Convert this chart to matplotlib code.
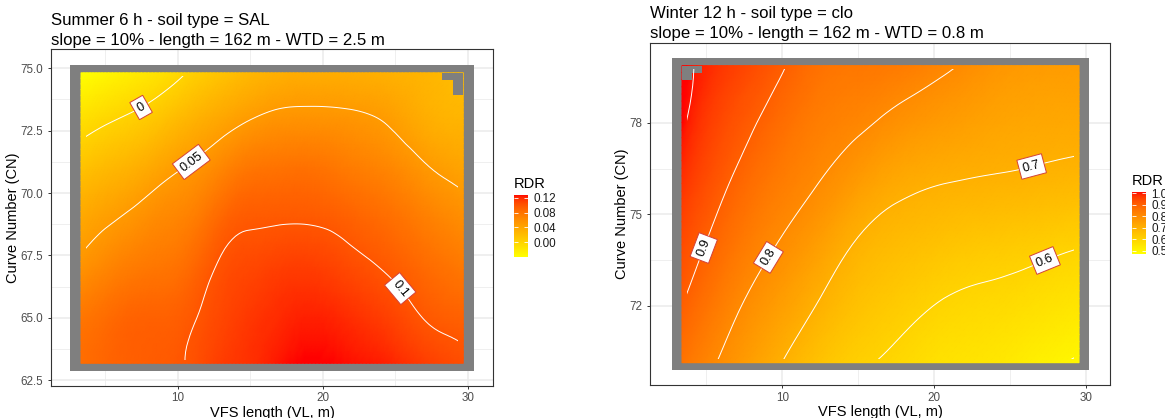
"""Two RDR response surfaces (VFS length x curve number), ggplot-like look."""
import numpy as np
import matplotlib
matplotlib.use("Agg")
import matplotlib.pyplot as plt
import matplotlib.tri as mtri
from matplotlib.colors import ListedColormap, Normalize
from matplotlib.cm import ScalarMappable
from matplotlib.patches import Rectangle
from matplotlib.ticker import FormatStrFormatter

plt.rcParams["font.family"] = ["Liberation Sans", "DejaVu Sans"]

# ---- data ------------------------------------------------------------------
# summer 6 h, soil SAL: RDR at VL (columns) x CN (rows, bottom -> top)
sum_vl = [3.33, 5, 7, 9, 11, 13, 15, 17, 19, 21, 23, 25, 27, 29.7]
sum_cn = [63.18, 65, 67, 69, 71, 73, 74.82]
sum_rdr = [
    [0.085, 0.090, 0.094, 0.097, 0.102, 0.113, 0.118, 0.125, 0.128, 0.127, 0.125, 0.121, 0.113, 0.104],
    [0.078, 0.085, 0.092, 0.093, 0.0985, 0.108, 0.115, 0.120, 0.123, 0.121, 0.116, 0.109, 0.0995, 0.093],
    [0.056, 0.066, 0.075, 0.079, 0.088, 0.1025, 0.108, 0.112, 0.113, 0.109, 0.103, 0.096, 0.087, 0.077],
    [0.038, 0.046, 0.055, 0.064, 0.072, 0.089, 0.097, 0.098, 0.098, 0.095, 0.089, 0.082, 0.072, 0.060],
    [0.015, 0.023, 0.031, 0.043, 0.053, 0.066, 0.078, 0.081, 0.082, 0.077, 0.071, 0.064, 0.0525, 0.042],
    [-0.012, -0.004, 0.004, 0.015, 0.028, 0.039, 0.049, 0.055, 0.056, 0.055, 0.052, 0.045, 0.034, 0.028],
    [-0.040, -0.032, -0.022, -0.012, 0.003, 0.014, 0.025, 0.032, 0.035, 0.034, 0.033, 0.030, 0.028, 0.020],
]
sum_cell = (0.7325, 0.291)          # raster cell size (VL, CN)
sum_na_rows = [2, 1, 1]             # missing cells per top row, right side
sum_levels = [0, 0.05, 0.1]
sum_labels = [(7.5, 73.4), (11.0, 71.2), (25.2, 66.1)]
sum_range = (-0.04, 0.128)
sum_cbar_ticks = [0.00, 0.04, 0.08, 0.12]

# winter 12 h, soil clo
win_vl = [3.39, 6, 9, 12, 15, 18, 21, 24, 27, 29.56]
win_cn = [70.14, 72, 74, 76, 78, 79.87]
win_rdr = [
    [0.855, 0.792, 0.722, 0.656, 0.610, 0.582, 0.555, 0.543, 0.514, 0.4925],
    [0.900, 0.831, 0.765, 0.704, 0.650, 0.619, 0.592, 0.580, 0.562, 0.546],
    [0.938, 0.873, 0.810, 0.756, 0.693, 0.664, 0.644, 0.631, 0.618, 0.604],
    [0.975, 0.911, 0.849, 0.805, 0.754, 0.714, 0.699, 0.692, 0.684, 0.675],
    [1.008, 0.942, 0.888, 0.837, 0.811, 0.778, 0.754, 0.734, 0.725, 0.722],
    [1.012, 0.971, 0.923, 0.867, 0.848, 0.836, 0.806, 0.772, 0.757, 0.754],
]
win_cell = (0.654, 0.243)
win_na_rows = [2, 1]                # missing cells per top row, left side
win_levels = [0.5, 0.6, 0.7, 0.8, 0.9, 1.0]
win_labels = [(4.8, 73.9), (9.05, 73.6), (26.5, 76.45), (27.3, 73.5)]
win_label_levels = [0.6, 0.7, 0.8, 0.9]
win_range = (0.47, 1.01)
win_cbar_ticks = [0.5, 0.6, 0.7, 0.8, 0.9, 1.0]

W, H = 1165, 418
GRID = "#EBEBEB"
DARK = "#333333"


def lab_gradient(c0, c1, n=256):
    """yellow -> red interpolated in CIE Lab, like scale_fill_gradient."""
    M = np.array([[0.4124, 0.3576, 0.1805], [0.2126, 0.7152, 0.0722], [0.0193, 0.1192, 0.9505]])
    wp = np.array([0.95047, 1.0, 1.08883])

    def to_lab(rgb):
        rgb = np.asarray(rgb, float)
        lin = np.where(rgb <= 0.04045, rgb / 12.92, ((rgb + 0.055) / 1.055) ** 2.4)
        xyz = M @ lin / wp
        f = np.where(xyz > 0.008856, np.cbrt(xyz), 7.787 * xyz + 16 / 116)
        return np.array([116 * f[1] - 16, 500 * (f[0] - f[1]), 200 * (f[1] - f[2])])

    t = np.linspace(0, 1, n)[:, None]
    lab = to_lab(c0) * (1 - t) + to_lab(c1) * t
    fy = (lab[:, 0] + 16) / 116
    f = np.stack([fy + lab[:, 1] / 500, fy, fy - lab[:, 2] / 200], axis=1)
    xyz = np.where(f ** 3 > 0.008856, f ** 3, (f - 16 / 116) / 7.787) * wp
    lin = xyz @ np.linalg.inv(M).T
    lin = np.clip(lin, 0, None)
    rgb = np.where(lin <= 0.0031308, 12.92 * lin, 1.055 * lin ** (1 / 2.4) - 0.055)
    return ListedColormap(np.clip(rgb, 0, 1))


CMAP = lab_gradient((1, 1, 0), (1, 0, 0))


def px_axes(fig, x0, y0, x1, y1):
    return fig.add_axes([x0 / W, 1 - y1 / H, (x1 - x0) / W, (y1 - y0) / H])


def grid_tri(vl, cn):
    """regular triangulation of the VL x CN grid (same diagonal in every cell)"""
    gx, gy = np.meshgrid(vl, cn)
    idx = np.arange(gx.size).reshape(gx.shape)
    a, b = idx[:-1, :-1].ravel(), idx[:-1, 1:].ravel()
    c, d = idx[1:, 1:].ravel(), idx[1:, :-1].ravel()
    tris = np.concatenate([np.stack([a, b, c], 1), np.stack([a, c, d], 1)])
    return mtri.Triangulation(gx.ravel(), gy.ravel(), tris)


def panel(fig, box, xlim, ylim, yticks, yfmt, vl, cn, z, cell, na_rows, na_side,
          levels, label_levels, label_pos, vrange, cbar_box, cbar_ticks, cbar_fmt,
          titles, ylab_x):
    ax = px_axes(fig, *box)
    z = np.asarray(z, float)
    dx, dy = cell
    norm = Normalize(*vrange)

    # smooth the read-off grid with matplotlib's own cubic refiner
    tri_f, z_f = mtri.UniformTriRefiner(grid_tri(vl, cn)).refine_field(z.ravel(), subdiv=3)

    # NA cells of the raster show as grey50 around the data
    ax.add_patch(Rectangle((vl[0] - dx, cn[0] - dy), vl[-1] - vl[0] + 2 * dx,
                           cn[-1] - cn[0] + 2 * dy, fc="#7F7F7F", ec="none", zorder=1))
    ax.tripcolor(tri_f, z_f, shading="gouraud", cmap=CMAP, norm=norm, zorder=2)
    for i, n in enumerate(na_rows):
        y1 = cn[-1] - i * dy
        x0 = vl[-1] - n * dx if na_side == "right" else vl[0]
        ax.add_patch(Rectangle((x0, y1 - dy), n * dx, dy, fc="#7F7F7F", ec="none", zorder=3))

    ax.set_xlim(*xlim); ax.set_ylim(*ylim)
    # contours only run between the outer cell centres
    clip_xy = (vl[0] + dx / 2, cn[0] + dy / 2)
    clip_wh = (vl[-1] - vl[0] - dx, cn[-1] - cn[0] - dy)
    plain = [lv for lv in levels if lv not in label_levels]
    if plain:
        cs0 = ax.tricontour(tri_f, z_f, levels=plain, colors="white", linewidths=0.7, zorder=4)
        cs0.set_clip_path(Rectangle(clip_xy, *clip_wh, transform=ax.transData))
    cs = ax.tricontour(tri_f, z_f, levels=label_levels, colors="white", linewidths=0.7, zorder=4)
    cs.set_clip_path(Rectangle(clip_xy, *clip_wh, transform=ax.transData))
    txt = ax.clabel(cs, inline=False, manual=label_pos,
                    fmt=lambda v: f"{v:g}", fontsize=9.2, colors="black")
    for t in txt:
        t.set_bbox(dict(boxstyle="square,pad=0.3", fc="white", ec="#D2413A", lw=0.7))
        t.set_zorder(5)

    ax.set_xticks([10, 20, 30]); ax.set_xticks([5, 15, 25], minor=True)
    ax.set_yticks(yticks)
    ax.set_yticks([(a + b) / 2 for a, b in zip(yticks[:-1], yticks[1:])], minor=True)
    ax.yaxis.set_major_formatter(FormatStrFormatter(yfmt))
    ax.grid(which="major", color=GRID, lw=1.1)
    ax.grid(which="minor", color=GRID, lw=0.55)
    ax.set_axisbelow(True)
    ax.tick_params(which="major", length=2.5, width=0.7, color=DARK, labelsize=8.4,
                   labelcolor="#4D4D4D")
    ax.tick_params(axis="x", pad=2); ax.tick_params(axis="y", pad=3)
    ax.tick_params(which="minor", length=0)
    for s in ax.spines.values():
        s.set_color(DARK); s.set_linewidth(0.8)

    x0, y0, x1, y1 = box
    fig.text(x0 / W, 1 - (y0 - 24.5) / H, titles[0], fontsize=12.1, va="baseline")
    fig.text(x0 / W, 1 - (y0 - 4.8) / H, titles[1], fontsize=12.1, va="baseline")
    fig.text((x0 + x1) / 2 / W, 1 - (y1 + 20) / H, "VFS length (VL, m)", fontsize=10.5,
             ha="center", va="top")
    fig.text(ylab_x / W, 1 - (y0 + y1) / 2 / H, "Curve Number (CN)", fontsize=10.5,
             rotation=90, ha="center", va="center")

    # colourbar legend
    cax = px_axes(fig, *cbar_box)
    cb = fig.colorbar(ScalarMappable(norm=norm, cmap=CMAP), cax=cax, ticks=cbar_ticks)
    cb.outline.set_visible(False)
    cb.minorticks_off()
    cax.yaxis.set_major_formatter(FormatStrFormatter(cbar_fmt))
    cax.tick_params(direction="in", color="white", length=2.8, width=0.6, left=True,
                    right=True, labelleft=False, labelright=True, labelsize=8.4,
                    labelcolor="#1A1A1A", pad=4)
    fig.text(cbar_box[0] / W, 1 - (cbar_box[1] - 7) / H, "RDR", fontsize=10.5, va="baseline")
    return ax


fig = plt.figure(figsize=(W / 100, H / 100), dpi=100)
panel(fig, (51, 49.3, 493.3, 386), (1.26, 31.77), (62.27, 75.76),
      [62.5, 65.0, 67.5, 70.0, 72.5, 75.0], "%.1f",
      sum_vl, sum_cn, sum_rdr, sum_cell, sum_na_rows, "right",
      sum_levels, sum_levels, sum_labels, sum_range,
      (514, 195, 528, 257), sum_cbar_ticks, "%.2f",
      ("Summer 6 h - soil type = SAL", "slope = 10% - length = 162 m - WTD = 2.5 m"), 13.5)
panel(fig, (650.3, 42.7, 1110.3, 385.3), (1.30, 31.62), (69.40, 80.62),
      [72, 75, 78], "%d",
      win_vl, win_cn, win_rdr, win_cell, win_na_rows, "left",
      win_levels, win_label_levels, win_labels, win_range,
      (1132, 192, 1146, 254), win_cbar_ticks, "%.1f",
      ("Winter 12 h - soil type = clo", "slope = 10% - length = 162 m - WTD = 0.8 m"), 622)

fig.savefig("out.png", dpi=100)
